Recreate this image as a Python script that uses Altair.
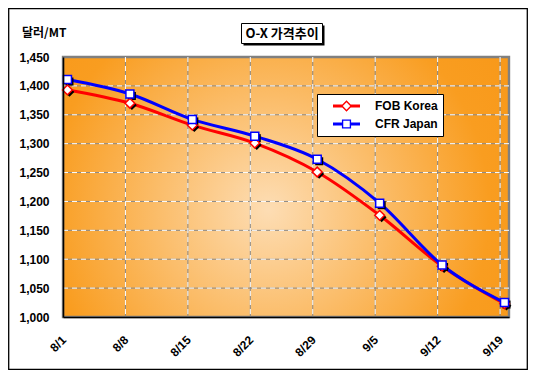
import altair as alt
import pandas as pd

# ---------------- data ----------------
dates = ["8/1", "8/8", "8/15", "8/22", "8/29", "9/5", "9/12", "9/19"]
fob_korea = [1393, 1370, 1332, 1301, 1251, 1176, 1088, 1023]
cfr_japan = [1411, 1386, 1342, 1313, 1273, 1197, 1090, 1025]
series_names = ["FOB Korea", "CFR Japan"]
series_colors = ["#FF0000", "#0000FF"]
series_shapes = ["diamond", "square"]
series_sizes = [95, 64]
y_ticks = [1000, 1050, 1100, 1150, 1200, 1250, 1300, 1350, 1400, 1450]
chart_title = "O-X 가격추이"
y_unit = "달러/MT"


def day_index(s):
    m, d = map(int, s.split("/"))
    return (d - 1) if m == 8 else 31 + d - 1


x_ticks = [day_index(s) for s in dates]
x_end = x_ticks[-1] + 1

rows = []
for name, vals in zip(series_names, [fob_korea, cfr_japan]):
    for dstr, v in zip(dates, vals):
        rows.append({"series": name, "date": dstr,
                     "day": day_index(dstr) + 0.5, "price": v})
df = pd.DataFrame(rows)

W, H = 446, 260
PAD = {"left": 55, "top": 49, "right": 19, "bottom": 53}

label_expr = ""
for t, s in zip(x_ticks, dates):
    label_expr += f"datum.value == {t} ? '{s}' : "
label_expr += "''"

xscale = alt.Scale(domain=[0, x_end], nice=False, zero=False)
yscale = alt.Scale(domain=[y_ticks[0], y_ticks[-1]], nice=False, zero=False)

axis_common = dict(
    title=None, grid=False, ticks=False, domain=True, domainColor="black",
    domainWidth=1.5, labelFont="Liberation Sans", labelFontSize=12,
    labelFontWeight="bold", labelColor="black", zindex=1,
)
x_axis = alt.Axis(values=x_ticks, labelExpr=label_expr, labelAngle=315,
                  labelAlign="right", labelBaseline="top", labelPadding=17,
                  labelOffset=-3, **axis_common)
y_axis = alt.Axis(values=y_ticks, format=",d", labelPadding=14, **axis_common)

x_enc = alt.X("day:Q", scale=xscale, axis=x_axis)
y_enc = alt.Y("price:Q", scale=yscale, axis=y_axis)

one = pd.DataFrame({"k": [0]})

# background with radial gradient
bg = alt.Chart(one).mark_rect(
    fill={"gradient": "radial", "x1": 0.46, "y1": 0.55, "r1": 0,
          "x2": 0.46, "y2": 0.55, "r2": 0.62,
          "stops": [{"offset": 0, "color": "#FDDDB4"},
                    {"offset": 0.8, "color": "#F99D20"},
                    {"offset": 1, "color": "#F8991A"}]},
    stroke="#808080", strokeWidth=2.4,
).encode(x=alt.value(0), x2=alt.value(W), y=alt.value(0), y2=alt.value(H))

hgrid_df = pd.DataFrame({"price": y_ticks[1:-1]})
vgrid_df = pd.DataFrame({"day": x_ticks[1:]})

hgrid_gray = alt.Chart(hgrid_df).mark_rule(color="#8a8a8a", strokeWidth=1).encode(y=y_enc)
hgrid_white = alt.Chart(hgrid_df).mark_rule(color="white", strokeWidth=1,
                                            strokeDash=[5, 4]).encode(y=y_enc)
vgrid_gray = alt.Chart(vgrid_df).mark_rule(color="#8a8a8a", strokeWidth=1).encode(x=x_enc)
vgrid_white = alt.Chart(vgrid_df).mark_rule(color="white", strokeWidth=1,
                                            strokeDash=[5, 4]).encode(x=x_enc)

fob_path = ("M-1,-0.11L-0.29,-0.11L-0.29,0.11L-1,0.11Z"
            "M0.29,-0.11L1,-0.11L1,0.11L0.29,0.11Z"
            "M0,-0.42L0.42,0L0,0.42L-0.42,0Z"
            "M0,-0.27L-0.27,0L0,0.27L0.27,0Z")
cfr_path = ("M-1,-0.11L-0.3,-0.11L-0.3,0.11L-1,0.11Z"
            "M0.3,-0.11L1,-0.11L1,0.11L0.3,0.11Z"
            "M-0.34,-0.34L0.34,-0.34L0.34,0.34L-0.34,0.34Z"
            "M-0.24,-0.24L-0.24,0.24L0.24,0.24L0.24,-0.24Z")

legend = alt.Legend(
    title=None, orient="none", legendX=254, legendY=37,
    fillColor="white", strokeColor="black", padding=5, rowPadding=4,
    clipHeight=14, symbolSize=729, symbolStrokeWidth=0, symbolOffset=11,
    symbolOpacity=1, symbolStrokeColor="transparent",
    symbolType={"expr": f"datum.value === '{series_names[0]}' ? '{fob_path}' : '{cfr_path}'"},
    labelOffset=15, labelFont="Liberation Sans", labelFontSize=12,
    labelFontWeight="bold", labelColor="black",
)
color_scale = alt.Scale(domain=series_names, range=series_colors)

# invisible layer carrying the legend
legend_src = alt.Chart(df).mark_point(filled=True, size=0).encode(
    x=x_enc, y=y_enc,
    color=alt.Color("series:N", scale=color_scale, legend=legend),
)

layers = [bg, hgrid_gray, hgrid_white, vgrid_gray, vgrid_white, legend_src]

for name, col in zip(series_names, series_colors):
    layers.append(
        alt.Chart(df).transform_filter(alt.datum.series == name)
        .mark_line(color=col, strokeWidth=3, interpolate="monotone")
        .encode(x=x_enc, y=y_enc)
    )
for name, shp, sz in zip(series_names, series_shapes, series_sizes):
    layers.append(
        alt.Chart(df).transform_filter(alt.datum.series == name)
        .mark_point(filled=True, color="black", opacity=1, shape=shp, size=sz,
                    xOffset=2, yOffset=2)
        .encode(x=x_enc, y=y_enc)
    )
for name, col, shp, sz in zip(series_names, series_colors, series_shapes, series_sizes):
    layers.append(
        alt.Chart(df).transform_filter(alt.datum.series == name)
        .mark_point(filled=False, fill="white", fillOpacity=1, stroke=col,
                    strokeWidth=1.5, opacity=1, shape=shp, size=sz)
        .encode(x=x_enc, y=y_enc)
    )

# title box with shadow
title_df = pd.DataFrame({"t": [chart_title]})
tb_shadow = alt.Chart(title_df).mark_rect(color="black").encode(
    x=alt.value(180.5), x2=alt.value(261.5), y=alt.value(-31.5), y2=alt.value(-11.5))
tb_box = alt.Chart(title_df).mark_rect(fill="white", stroke="black",
                                       strokeWidth=1).encode(
    x=alt.value(178.5), x2=alt.value(259.5), y=alt.value(-33.5), y2=alt.value(-13.5))
tb_text = alt.Chart(title_df).mark_text(
    font="Noto Sans CJK KR", fontSize=13, fontWeight="bold", color="black",
    align="center", baseline="middle").encode(
    x=alt.value(219), y=alt.value(-23), text="t:N")

unit_df = pd.DataFrame({"t": [y_unit]})
unit_text = alt.Chart(unit_df).mark_text(
    font="Noto Sans CJK KR", fontSize=12, fontWeight="bold", color="black",
    align="left", baseline="middle").encode(
    x=alt.value(-41), y=alt.value(-24), text="t:N")

outer = alt.Chart(one).mark_rect(fillOpacity=0, stroke="black",
                                 strokeWidth=1.3).encode(
    x=alt.value(-PAD["left"] + 0.7), x2=alt.value(W + PAD["right"] - 0.7),
    y=alt.value(-PAD["top"] + 0.7), y2=alt.value(H + PAD["bottom"] - 0.7))

layers += [tb_shadow, tb_box, tb_text, unit_text, outer]

chart = alt.layer(*layers).properties(
    width=W, height=H, padding=PAD,
    autosize=alt.AutoSizeParams(type="none"),
    background="white",
).configure_view(stroke=None)

chart.save("out.html", embed_options={"renderer": "svg", "actions": False})
